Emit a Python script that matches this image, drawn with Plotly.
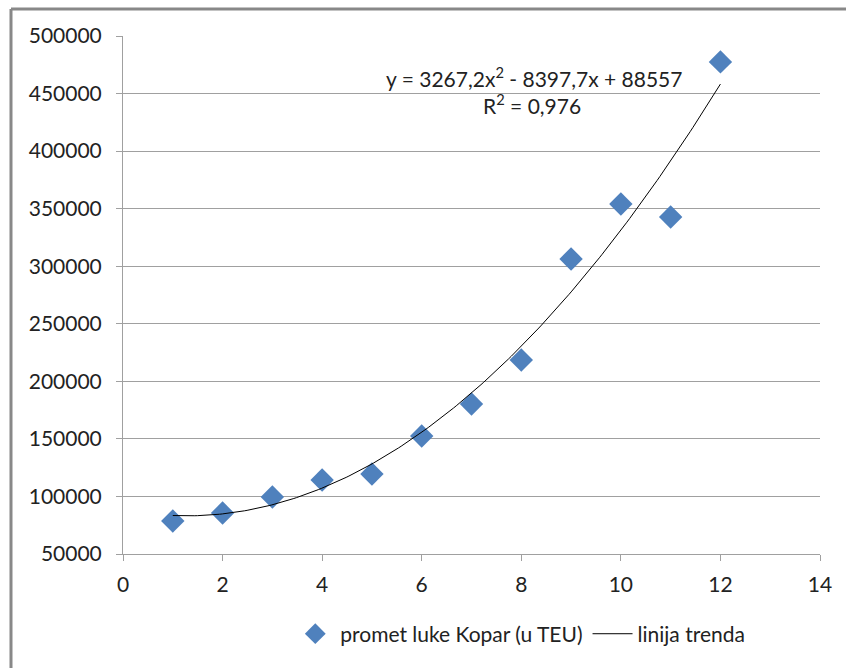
import numpy as np
import plotly.graph_objects as go

x_vals = [1, 2, 3, 4, 5, 6, 7, 8, 9, 10, 11, 12]
teu = [78700, 85600, 99500, 114300, 119500, 152500, 180300, 218500, 306300, 354100, 342800, 477500]
trend_coef = [3267.2, -8397.7, 88557]  # as shown in the chart equation
y_ticks = [50000, 100000, 150000, 200000, 250000, 300000, 350000, 400000, 450000, 500000]
x_ticks = [0, 2, 4, 6, 8, 10, 12, 14]

FONT = "Lato"
xt = np.linspace(1, 12, 200)
yt = np.polyval(trend_coef, xt)

fig = go.Figure()
fig.add_trace(go.Scatter(x=x_vals, y=teu, mode="markers", name="promet luke Kopar (u TEU)",
                         marker=dict(symbol="diamond", size=18, color="#4F81BD")))
fig.add_trace(go.Scatter(x=xt, y=yt, mode="lines", name="linija trenda",
                         line=dict(color="black", width=1)))

fx0, fy1 = -0.1607, 1.0521
fig.update_layout(
    width=846, height=668,
    margin=dict(l=123, r=26, t=36, b=114),
    paper_bgcolor="white", plot_bgcolor="white",
    font=dict(family=FONT, size=21, color="#222"),
    showlegend=True,
    legend=dict(orientation="h", x=0.24, xanchor="left", y=-0.115, yanchor="top",
                font=dict(size=21), itemwidth=40, tracegroupgap=0),
    xaxis=dict(range=[0, 14], tickvals=x_ticks, showgrid=False, zeroline=False,
               showline=True, linecolor="#A0A0A0", linewidth=1,
               ticks="outside", ticklen=6, tickcolor="#A0A0A0", ticklabelstandoff=6),
    yaxis=dict(range=[50000, 500000], tickvals=y_ticks, ticktext=[str(v) for v in y_ticks],
               showgrid=True, gridcolor="#A0A0A0", gridwidth=1, zeroline=False,
               showline=True, linecolor="#A0A0A0", linewidth=1,
               ticks="outside", ticklen=6, tickcolor="#A0A0A0", ticklabelstandoff=10),
    shapes=[
        dict(type="line", xref="paper", yref="paper", x0=fx0, x1=1.2, y0=fy1, y1=fy1,
             line=dict(color="#888", width=3), layer="below"),
        dict(type="line", xref="paper", yref="paper", x0=fx0, x1=fx0, y0=fy1, y1=-0.5,
             line=dict(color="#888", width=3), layer="below"),
    ],
    annotations=[
        dict(xref="x", yref="y", x=8.26, y=464000, text="y = 3267,2x<sup>2</sup> - 8397,7x + 88557",
             showarrow=False, font=dict(size=21, family=FONT)),
        dict(xref="x", yref="y", x=8.22, y=441000, text="R<sup>2</sup> = 0,976",
             showarrow=False, font=dict(size=21, family=FONT)),
    ],
)
fig.write_html("out.html")
